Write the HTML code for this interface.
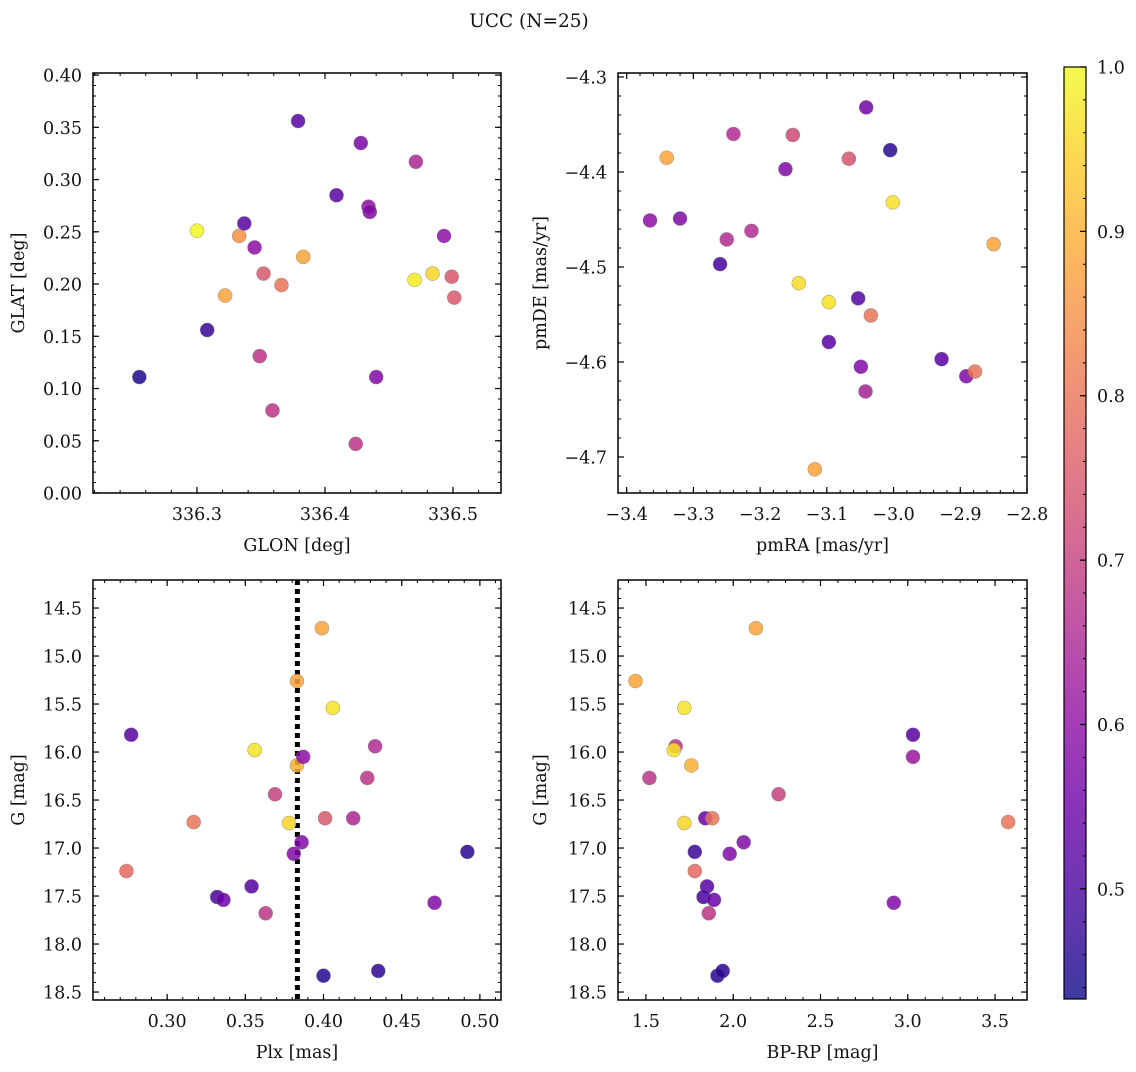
<!DOCTYPE html>
<html><head><meta charset="utf-8"><style>
html,body{margin:0;padding:0;background:#fff;}
svg text{font-family:"DejaVu Serif","Liberation Serif",serif;fill:#111;}
</style></head><body>
<svg id="fig" width="1136" height="1067" viewBox="0 0 1136 1067" xmlns="http://www.w3.org/2000/svg">
<text x="529" y="27" font-size="18.5" text-anchor="middle">UCC (N=25)</text>
</svg>
<script>
// ---- data ----
const glon = [336.255,336.300,336.308,336.322,336.333,336.337,336.345,336.349,336.352,336.359,336.366,336.379,336.383,336.409,336.424,336.428,336.434,336.435,336.440,336.470,336.471,336.484,336.493,336.499,336.501];
const glat = [0.111,0.251,0.156,0.189,0.246,0.258,0.235,0.131,0.210,0.079,0.199,0.356,0.226,0.285,0.047,0.335,0.274,0.269,0.111,0.204,0.317,0.210,0.246,0.207,0.187];
const probA = [0.45,1.0,0.48,0.88,0.85,0.52,0.60,0.68,0.75,0.68,0.80,0.52,0.88,0.52,0.68,0.57,0.60,0.58,0.58,0.98,0.65,0.95,0.60,0.75,0.75];

const pmra = [-3.365,-3.32,-3.34,-3.24,-3.25,-3.213,-3.26,-3.151,-3.162,-3.067,-3.041,-3.005,-3.001,-2.850,-3.142,-3.097,-3.053,-3.034,-3.097,-3.049,-3.042,-2.928,-2.891,-2.878,-3.118];
const pmde = [-4.451,-4.449,-4.385,-4.360,-4.471,-4.462,-4.497,-4.361,-4.397,-4.386,-4.332,-4.377,-4.432,-4.476,-4.517,-4.537,-4.533,-4.551,-4.579,-4.605,-4.631,-4.597,-4.615,-4.610,-4.713];
const probB = [0.60,0.58,0.88,0.66,0.66,0.66,0.50,0.72,0.58,0.74,0.56,0.46,0.97,0.88,0.96,0.97,0.52,0.80,0.52,0.58,0.64,0.52,0.58,0.80,0.88];

const plx = [0.277,0.274,0.317,0.332,0.336,0.354,0.356,0.363,0.369,0.378,0.381,0.383,0.383,0.386,0.387,0.399,0.400,0.401,0.406,0.419,0.428,0.433,0.435,0.471,0.492];
const gmagC = [15.82,17.24,16.73,17.51,17.54,17.40,15.98,17.68,16.44,16.74,17.06,15.26,16.14,16.94,16.05,14.71,18.33,16.69,15.54,16.69,16.27,15.94,18.28,17.57,17.04];
const probC = [0.52,0.78,0.80,0.50,0.55,0.52,0.97,0.68,0.70,0.95,0.58,0.88,0.90,0.58,0.60,0.88,0.46,0.75,0.97,0.65,0.68,0.66,0.47,0.58,0.46];
const plxMedian = 0.3833;

const bprp = [1.44,1.52,1.67,1.66,1.72,1.76,1.72,1.78,1.78,1.84,1.88,1.85,1.83,1.86,1.89,1.98,2.06,1.91,1.94,2.13,2.26,3.03,3.03,2.92,3.575];
const gmagD = [15.26,16.27,15.94,15.98,15.54,16.14,16.74,17.04,17.24,16.69,16.69,17.40,17.51,17.68,17.54,17.06,16.94,18.33,18.28,14.71,16.44,15.82,16.05,17.57,16.73];
const probD = [0.88,0.68,0.68,0.97,0.97,0.90,0.95,0.48,0.78,0.55,0.80,0.52,0.50,0.68,0.55,0.58,0.58,0.46,0.47,0.88,0.70,0.52,0.62,0.58,0.80];

const ticksTLx = [336.3,336.4,336.5]; const ticksTLy = [0,0.05,0.1,0.15,0.2,0.25,0.3,0.35,0.4];
const ticksTRx = [-3.4,-3.3,-3.2,-3.1,-3.0,-2.9,-2.8]; const ticksTRy = [-4.3,-4.4,-4.5,-4.6,-4.7];
const ticksBLx = [0.30,0.35,0.40,0.45,0.50]; const ticksGy = [14.5,15.0,15.5,16.0,16.5,17.0,17.5,18.0,18.5];
const ticksBRx = [1.5,2.0,2.5,3.0,3.5];
const ticksCb = [0.5,0.6,0.7,0.8,0.9,1.0];

const CMIN=0.433, CMAX=1.0;
const stops=[[13,8,135],[65,4,157],[106,0,168],[143,13,164],[177,42,144],[204,71,120],[225,100,98],[242,132,75],[252,166,54],[252,206,37],[240,249,33]];
function plasma(t){t=Math.max(0,Math.min(1,t));const f=t*10,i=Math.min(9,Math.floor(f)),u=f-i;const a=stops[i],b=stops[i+1];
 return 'rgb('+a.map((v,k)=>Math.round(v+(b[k]-v)*u)).join(',')+')';}
function cmap(v){return plasma((v-CMIN)/(CMAX-CMIN));}

const NS='http://www.w3.org/2000/svg';
const svg=document.getElementById('fig');
const FS=17.5;
function mk(tag,attrs,parent){const e=document.createElementNS(NS,tag);for(const k in attrs)e.setAttribute(k,attrs[k]);(parent||svg).appendChild(e);return e;}
function fmt(v,d){let s=v.toFixed(d);if(v<0)s='\u2212'+s.slice(1);return s;}

function panel(o){
 const g=mk('g',{});
 
 
 const sx=v=>o.L+(v-o.xd[0])/(o.xd[1]-o.xd[0])*(o.R-o.L);
 const sy=v=>o.yinv? o.T+(v-o.yd[0])/(o.yd[1]-o.yd[0])*(o.B-o.T) : o.B-(v-o.yd[0])/(o.yd[1]-o.yd[0])*(o.B-o.T);
 const eps=1e-9;
 for(let k=Math.ceil(o.xd[0]/o.xm-eps);k*o.xm<=o.xd[1]+eps;k++){const x=sx(k*o.xm);
  mk('line',{x1:x,x2:x,y1:o.B,y2:o.B-3,stroke:'#000','stroke-width':1},g);
  mk('line',{x1:x,x2:x,y1:o.T,y2:o.T+3,stroke:'#000','stroke-width':1},g);}
 const ylo=Math.min(...o.yd),yhi=Math.max(...o.yd);
 for(let k=Math.ceil(ylo/o.ym-eps);k*o.ym<=yhi+eps;k++){const y=sy(k*o.ym);
  mk('line',{x1:o.L,x2:o.L+3,y1:y,y2:y,stroke:'#000','stroke-width':1},g);
  mk('line',{x1:o.R,x2:o.R-3,y1:y,y2:y,stroke:'#000','stroke-width':1},g);}
 o.xt.forEach(v=>{const x=sx(v);
  mk('line',{x1:x,x2:x,y1:o.B,y2:o.B-6,stroke:'#000','stroke-width':1.2},g);
  mk('line',{x1:x,x2:x,y1:o.T,y2:o.T+6,stroke:'#000','stroke-width':1.2},g);
  const t=mk('text',{x:x,y:o.B+27,'font-size':FS,'text-anchor':'middle'},g);t.textContent=fmt(v,o.xdec);
  
  });
 o.yt.forEach(v=>{const y=sy(v);
  mk('line',{x1:o.L,x2:o.L+6,y1:y,y2:y,stroke:'#000','stroke-width':1.2},g);
  mk('line',{x1:o.R,x2:o.R-6,y1:y,y2:y,stroke:'#000','stroke-width':1.2},g);
  const t=mk('text',{x:o.L-11,y:y+6.5,'font-size':FS,'text-anchor':'end'},g);t.textContent=fmt(v,o.ydec);
  
  });
 if(o.vline!==undefined){const x=sx(o.vline);
  const l=mk('line',{x1:x,x2:x,y1:o.T,y2:o.B,stroke:'#000','stroke-width':5,'stroke-dasharray':'5,4'},g);
  
  }
 o.x.forEach((v,i)=>{const c=mk('circle',{cx:sx(v),cy:sy(o.y[i]),r:7,fill:cmap(o.c[i]),'fill-opacity':0.85,stroke:'#777','stroke-width':0.6,'stroke-opacity':0.6},g);
  
  });
 mk('rect',{x:o.L,y:o.T,width:o.R-o.L,height:o.B-o.T,fill:'none',stroke:'#000','stroke-width':1.5},g);
 const xl=mk('text',{x:(o.L+o.R)/2,y:o.B+58,'font-size':FS,'text-anchor':'middle'},g);xl.textContent=o.xlab;
 
 
 const yx=o.ylx, yy=(o.T+o.B)/2;
 const yl=mk('text',{x:yx,y:yy,'font-size':FS,'text-anchor':'middle',transform:'rotate(-90 '+yx+' '+yy+')'},g);yl.textContent=o.ylab;
 
 
}

panel({name:'glon-glat-panel',L:93,R:501,T:73,B:493,xd:[336.2188,336.5375],yd:[0,0.402],xt:ticksTLx,yt:ticksTLy,xm:0.02,ym:0.01,xdec:1,ydec:2,x:glon,y:glat,c:probA,xlab:'GLON [deg]',ylab:'GLAT [deg]',ylx:24});
panel({name:'pm-panel',L:618,R:1027,T:73,B:493,xd:[-3.413,-2.8],yd:[-4.7379,-4.2958],xt:ticksTRx,yt:ticksTRy,xm:0.02,ym:0.02,xdec:1,ydec:1,x:pmra,y:pmde,c:probB,xlab:'pmRA [mas/yr]',ylab:'pmDE [mas/yr]',ylx:546});
panel({name:'plx-g-panel',L:93,R:501,T:580,B:1000,xd:[0.2526,0.5135],yd:[14.208,18.583],yinv:true,xt:ticksBLx,yt:ticksGy,xm:0.01,ym:0.1,xdec:2,ydec:1,x:plx,y:gmagC,c:probC,vline:plxMedian,xlab:'Plx [mas]',ylab:'G [mag]',ylx:24});
panel({name:'color-g-panel',L:618,R:1027,T:580,B:1000,xd:[1.340,3.683],yd:[14.208,18.583],yinv:true,xt:ticksBRx,yt:ticksGy,xm:0.1,ym:0.1,xdec:1,ydec:1,x:bprp,y:gmagD,c:probD,xlab:'BP-RP [mag]',ylab:'G [mag]',ylx:546});

// colorbar
(function(){
 const L=1064,R=1086,T=67,B=999;
 const g=mk('g',{});
 
 
 const defs=mk('defs',{},g);
 const lg=mk('linearGradient',{id:'cbg',x1:0,y1:1,x2:0,y2:0},defs);
 for(let i=0;i<=10;i++)mk('stop',{offset:i/10,'stop-color':plasma(i/10),'stop-opacity':0.8},lg);
 mk('rect',{x:L,y:T,width:R-L,height:B-T,fill:'url(#cbg)'},g);
 const sy=v=>B-(v-CMIN)/(CMAX-CMIN)*(B-T);
 for(let k=22;k<=50;k++){const y=sy(k*0.02);mk('line',{x1:R,x2:R-3,y1:y,y2:y,stroke:'#000','stroke-width':1},g);}
 ticksCb.forEach(v=>{const y=sy(v);mk('line',{x1:R,x2:R-6,y1:y,y2:y,stroke:'#000','stroke-width':1.2},g);
  const t=mk('text',{x:R+11,y:y+6.5,'font-size':FS},g);t.textContent=v.toFixed(1);
  
  });
 mk('rect',{x:L,y:T,width:R-L,height:B-T,fill:'none',stroke:'#000','stroke-width':1.2},g);
})();
</script>
</body></html>
